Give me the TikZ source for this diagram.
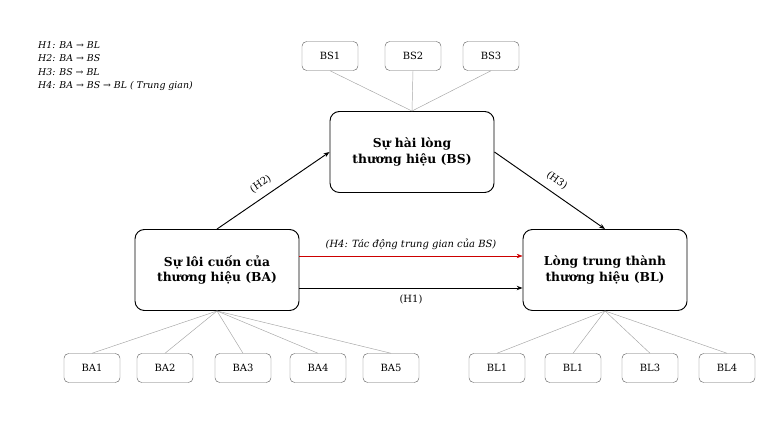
\documentclass[tikz,border=0pt]{standalone}
\usepackage{fontspec}
\setmainfont{DejaVu Serif}
\usetikzlibrary{arrows.meta}
\begin{document}
\begin{tikzpicture}[x=0.03cm,y=-0.03cm,
    concept/.style={draw, thick, rounded corners=8pt, minimum width=164*0.03cm, minimum height=81*0.03cm, align=center, font=\fontsize{10.5}{13}\selectfont\bfseries},
    item/.style={draw, gray!80!black, rounded corners=4pt, minimum width=56*0.03cm, minimum height=29*0.03cm, text=black, font=\fontsize{8.5}{10}\selectfont},
    link/.style={gray!70},
    path/.style={thick, -{Stealth[length=5pt]}},
    lab/.style={font=\fontsize{8.5}{10}\selectfont}]
    \useasboundingbox (0,0) rectangle (778,428);

    % hypotheses
    \node[anchor=west, align=left, font=\fontsize{8}{11.3}\selectfont\itshape] (hyp) at (34,66)
        {H1: BA → BL\\H2: BA → BS\\H3: BS → BL\\H4: BA → BS → BL ( Trung gian)};

    % constructs
    \node[concept] (BS) at (412,152) {Sự hài lòng\\thương hiệu (BS)};
    \node[concept] (BA) at (217,270) {Sự lôi cuốn của\\thương hiệu (BA)};
    \node[concept] (BL) at (605,270) {Lòng trung thành\\thương hiệu (BL)};

    % indicators
    \foreach \n/\x in {BS1/330,BS2/413,BS3/491}
        \node[item] (\n) at (\x,56) {\n};
    \foreach \n/\x in {BA1/92,BA2/165,BA3/243,BA4/318,BA5/391}
        \node[item] (\n) at (\x,368) {\n};
    \node[item] (BLa) at (497,368) {BL1};
    \node[item] (BLb) at (573,368) {BL1};
    \node[item] (BLc) at (650,368) {BL3};
    \node[item] (BLd) at (727,368) {BL4};

    \foreach \n in {BS1,BS2,BS3}
        \draw[link] (BS.north) -- (\n.south);
    \foreach \n in {BA1,BA2,BA3,BA4,BA5}
        \draw[link] (BA.south) -- (\n.north);
    \foreach \n in {BLa,BLb,BLc,BLd}
        \draw[link] (BL.south) -- (\n.north);

    % paths
    \draw[path] (BA.north) -- (BS.west) node[lab, pos=0.45, sloped, above=3pt] {(H2)};
    \draw[path] (BS.east) -- (BL.north) node[lab, pos=0.5, sloped, above=3pt] {(H3)};
    \draw[path, red!80!black, thin] (BA.east |- 0,256) -- (BL.west |- 0,256)
        node[lab, midway, above=2pt, text=black, font=\fontsize{8.5}{10}\selectfont\itshape] {(H4: Tác động trung gian của BS)};
    \draw[path] (BA.east |- 0,288) -- (BL.west |- 0,288) node[lab, midway, below=2pt] {(H1)};
\end{tikzpicture}
\end{document}
